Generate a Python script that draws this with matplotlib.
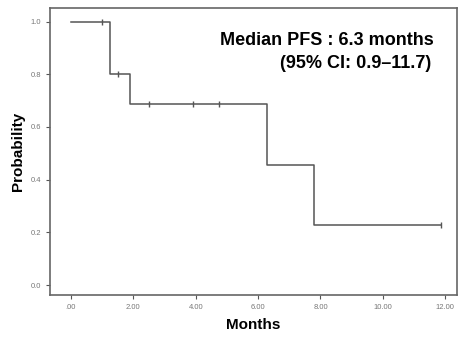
import matplotlib
matplotlib.use("Agg")
import matplotlib.pyplot as plt

# Kaplan-Meier step curve
step_months = [0.0, 1.25, 1.9, 6.3, 7.8, 11.85]
step_surv = [1.0, 0.8, 0.686, 0.457, 0.229, 0.229]
# censored observations
cens_months = [1.0, 1.5, 2.5, 3.9, 4.75, 11.85]
cens_surv = [1.0, 0.8, 0.686, 0.686, 0.686, 0.229]

x_ticks = [0, 2, 4, 6, 8, 10, 12]
x_labels = [".00", "2.00", "4.00", "6.00", "8.00", "10.00", "12.00"]
y_ticks = [0.0, 0.2, 0.4, 0.6, 0.8, 1.0]
y_labels = ["0.0", "0.2", "0.4", "0.6", "0.8", "1.0"]

plt.rcParams['font.family'] = ['Liberation Sans', 'DejaVu Sans']

fig = plt.figure(figsize=(4.68, 3.38), dpi=100)
ax = fig.add_axes([0.107, 0.127, 0.869, 0.849])

ax.step(step_months, step_surv, where="post", color="#555555", linewidth=1.1)
ax.plot(cens_months, cens_surv, linestyle="none", marker="|", markersize=4,
        color="#555555", markeredgewidth=1.0)

ax.set_xlim(-0.67, 12.37)
ax.set_ylim(-0.038, 1.051)
ax.set_xticks(x_ticks)
ax.set_xticklabels(x_labels)
ax.set_yticks(y_ticks)
ax.set_yticklabels(y_labels)
ax.tick_params(labelsize=5.5, labelcolor="#777777", color="#555555", length=3, width=0.8)

for s in ax.spines.values():
    s.set_color("#666666")
    s.set_linewidth(1.2)

ax.set_xlabel("Months", fontsize=11, fontweight="bold", labelpad=5)
ax.set_ylabel("Probability", fontsize=11, fontweight="bold", labelpad=4)

ax.text(0.943, 0.871, "Median PFS : 6.3 months", transform=ax.transAxes,
        ha="right", va="baseline", fontsize=13, fontweight="bold")
ax.text(0.938, 0.791, "(95% CI: 0.9\u201311.7)", transform=ax.transAxes,
        ha="right", va="baseline", fontsize=13, fontweight="bold")

fig.savefig("out.png", dpi=100)
